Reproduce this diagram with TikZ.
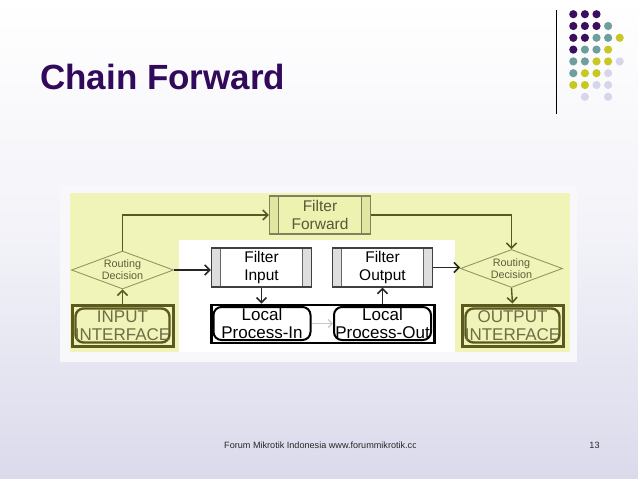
\documentclass[tikz,border=0pt]{standalone}
\usepackage{fontspec}
\setmainfont{Liberation Sans}
\usetikzlibrary{arrows.meta,shapes.geometric}
\definecolor{bgbot}{RGB}{218,218,236}
\definecolor{titlec}{RGB}{50,10,92}
\definecolor{dP}{RGB}{60,14,94}
\definecolor{dT}{RGB}{110,158,158}
\definecolor{dY}{RGB}{200,200,35}
\definecolor{dL}{RGB}{214,214,234}
\definecolor{yel}{RGB}{240,244,184}
\definecolor{ffill}{RGB}{238,242,176}
\definecolor{fbar}{RGB}{226,230,160}
\definecolor{fline}{RGB}{130,130,90}
\definecolor{oline}{RGB}{88,88,36}
\definecolor{otext}{RGB}{110,110,70}
\definecolor{dline}{RGB}{150,150,96}
\definecolor{gbar}{RGB}{222,222,222}
\definecolor{ifline}{RGB}{90,90,30}
\newcommand\mysidebars[2]{%
  \fill[#1] (path picture bounding box.north west) rectangle ([xshift=9pt]path picture bounding box.south west);
  \fill[#1] (path picture bounding box.north east) rectangle ([xshift=-9pt]path picture bounding box.south east);
  \draw[#2,line width=1pt] ([xshift=9pt]path picture bounding box.north west) -- ([xshift=9pt]path picture bounding box.south west);
  \draw[#2,line width=1pt] ([xshift=-9pt]path picture bounding box.north east) -- ([xshift=-9pt]path picture bounding box.south east);}
\tikzset{
  fbox/.style={draw=black!75,line width=1.3pt,fill=white,minimum width=100pt,minimum height=39pt,
    inner sep=0pt,align=center,font=\fontsize{15.5}{17.5}\selectfont,
    path picture={\mysidebars{gbar}{black!60}}},
  ffbox/.style={draw=fline,line width=1.2pt,fill=ffill,minimum width=101pt,minimum height=38pt,
    inner sep=0pt,align=center,text=otext!80!black,font=\fontsize{15.5}{17.5}\selectfont,
    path picture={\mysidebars{fbar}{fline}}},
  rdec/.style={diamond,draw=dline,line width=0.9pt,fill=yel,minimum width=102pt,minimum height=38pt,
    aspect=2.7,inner sep=0pt,align=center,text=otext!85!black,font=\fontsize{10.8}{12}\selectfont},
  ifbox/.style={draw=ifline,line width=3pt,fill=yel,minimum width=101pt,minimum height=41pt,
    inner sep=0pt,align=center,text=otext,font=\fontsize{17}{17.5}\selectfont,
    path picture={\draw[ifline,line width=2.4pt,rounded corners=8pt]
      ([xshift=3.5pt,yshift=-3.5pt]path picture bounding box.north west) rectangle
      ([xshift=-3.5pt,yshift=3.5pt]path picture bounding box.south east);}},
  lpouter/.style={draw=black,line width=2.6pt,fill=white,minimum width=223pt,minimum height=38pt,inner sep=0pt},
  lpbox/.style={draw=black,line width=2pt,rounded corners=8pt,minimum width=97pt,minimum height=33pt,
    inner sep=0pt,align=center,font=\fontsize{17}{18.5}\selectfont},
  oarr/.style={draw=oline,line width=1.4pt,-{Straight Barb[length=5pt,width=10pt,line width=1.6pt]}},
  karr/.style={draw=black!85,line width=1.4pt,-{Straight Barb[length=5pt,width=10pt,line width=1.6pt]}},
  garr/.style={draw=black!22,line width=1.2pt,-{Straight Barb[length=4pt,width=8pt]}},
}
\begin{document}
\begin{tikzpicture}[x=1pt,y=-1pt]
\useasboundingbox (0,0) rectangle (638,479);
\shade[top color=white,bottom color=bgbot,middle color=white!65!bgbot] (0,0) rectangle (638,479);
% logo
\draw[black,line width=0.8pt] (556,10) -- (556,114);
\foreach \c/\r/\k in {0/0/dP,1/0/dP,2/0/dP,
  0/1/dP,1/1/dP,2/1/dP,3/1/dT,
  0/2/dP,1/2/dP,2/2/dT,3/2/dT,4/2/dY,
  0/3/dP,1/3/dT,2/3/dT,3/3/dY,
  0/4/dT,1/4/dT,2/4/dY,3/4/dY,4/4/dL,
  0/5/dT,1/5/dY,2/5/dY,3/5/dL,
  0/6/dY,1/6/dY,2/6/dL,3/6/dL,
  1/7/dL,3/7/dL}
  \fill[\k] (573.3+11.6*\c,14.2+11.8*\r) circle (4.1pt);
% title
\node[anchor=base west,inner sep=0pt,text=titlec,font=\fontsize{35}{40}\selectfont\bfseries] (title) at (40,89.3) {Chain Forward};
% diagram background
\fill[white!80!bgbot] (60,185.5) rectangle (577,362);
\fill[yel] (69.5,192.5) rectangle (570,352);
\fill[white] (178.5,240) rectangle (455,352);
% nodes
\node[ffbox] (ff) at (320,215) {Filter\\Forward};
\node[fbox] (fi) at (261.5,267.5) {Filter\\Input};
\node[fbox] (fo) at (382.5,267.5) {Filter\\Output};
\node[rdec] (rd1) at (122.5,270) {Routing\\Decision};
\node[rdec] (rd2) at (511.5,268.5) {Routing\\Decision};
\node[ifbox] (inif) at (122.5,325.5) {INPUT\\INTERFACE};
\node[ifbox] (outif) at (512.5,325.5) {OUTPUT\\INTERFACE};
\node[lpouter] (lp) at (323,324) {};
\node[lpbox] (lpi) at (262,323.5) {Local\\Process-In};
\node[lpbox] (lpo) at (382.5,323.5) {Local\\Process-Out};
% connectors
\draw[oarr] (rd1.north) |- (ff.west);
\draw[oarr] (ff.east) -| (rd2.north);
\draw[karr] (rd1.east) -- (rd1.east -| fi.west);
\draw[karr] (fo.east) -- (fo.east -| rd2.west);
\draw[karr] (fi.south) -- (fi.south |- lp.north);
\draw[karr] (fo.south |- lp.north) -- (fo.south);
\draw[oarr] (inif.north) -- (rd1.south);
\draw[oarr] (rd2.south) -- (outif.north);
\draw[garr] (lpi.east) -- (lpo.west);
% footer
\begin{scope}
\clip (200,430) rectangle (415,460);
\node[anchor=base west,inner sep=0pt,text=black!85,font=\fontsize{9.1}{10}\selectfont] (foot) at (224,448) {Forum Mikrotik Indonesia www.forummikrotik.com};
\end{scope}
\node[anchor=base,inner sep=0pt,text=black!85,font=\fontsize{9.1}{10}\selectfont] (pg) at (594.5,448) {13};
\end{tikzpicture}
\end{document}
